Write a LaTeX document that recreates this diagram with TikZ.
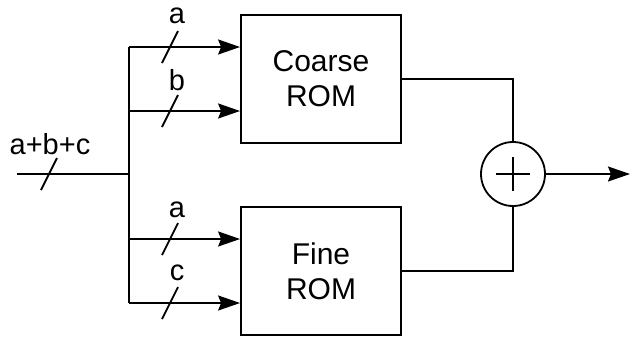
\documentclass[tikz,border=0pt]{standalone}
\usepackage{fontspec}
\setmainfont{Liberation Sans}
\usetikzlibrary{arrows.meta}
\begin{document}
\begin{tikzpicture}[x=1pt,y=-1pt,line width=1.8pt,
  rom/.style={draw,minimum width=160pt,minimum height=128pt,align=center,inner sep=0pt,font=\fontsize{30}{35}\selectfont},
  lbl/.style={anchor=base,inner sep=0pt,font=\fontsize{29}{32}\selectfont},
  arr/.style={-{Stealth[length=22pt,width=15pt,inset=3pt]}},
  sumc/.style={draw,circle,minimum size=64pt,inner sep=0pt},
  busslash/.pic={\draw (-8,16) -- (8,-16);}]
\useasboundingbox (0,0) rectangle (631,338);
\node[rom] (coarse) at (321,79) {Coarse\\ROM};
\node[rom] (fine) at (321,271) {Fine\\ROM};
\node[sumc] (sum) at (513,174) {};
\draw ([xshift=-17pt]sum.center) -- ([xshift=17pt]sum.center);
\draw ([yshift=-17pt]sum.center) -- ([yshift=17pt]sum.center);
\coordinate (in) at (17,174);
\coordinate (bus) at (129,174);
\coordinate (b1) at (129,47);
\coordinate (b2) at (129,111);
\coordinate (b3) at (129,239);
\coordinate (b4) at (129,303);
\coordinate (out) at (630,174);
\draw (in) -- (bus);
\draw (b1) -- (b4);
\draw[arr] (b1) -- (b1 -| coarse.west);
\draw[arr] (b2) -- (b2 -| coarse.west);
\draw[arr] (b3) -- (b3 -| fine.west);
\draw[arr] (b4) -- (b4 -| fine.west);
\draw (coarse.east) -| (sum.north);
\draw (fine.east) -| (sum.south);
\draw[arr] (sum.east) -- (out);
\pic at (49,174) {busslash};
\pic at (170,47) {busslash};
\pic at (170,111) {busslash};
\pic at (170,239) {busslash};
\pic at (170,303) {busslash};
\node[lbl] (lin) at (50,154) {a+b+c};
\node[lbl] (la1) at (177,23) {a};
\node[lbl] (lb) at (177,90) {b};
\node[lbl] (la2) at (177,217) {a};
\node[lbl] (lc) at (177,280) {c};
\end{tikzpicture}
\end{document}
